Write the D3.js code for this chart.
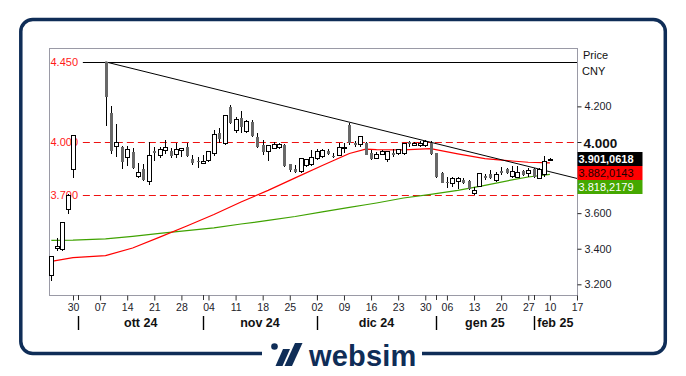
<!DOCTYPE html>
<html>
<head>
<meta charset="utf-8">
<script src="https://cdn.jsdelivr.net/npm/d3@7"></script>
<style>
  html, body { margin: 0; padding: 0; background: #fff; }
  svg { display: block; font-family: "Liberation Sans", Arial, sans-serif; }
</style>
</head>
<body>
<div id="chart-area"></div>
<script>
// candle data (prices in CNY, Italian formatting on the labels)
const candleDates = ["2024-09-24","2024-09-25","2024-09-26","2024-09-27","2024-09-30",
  "2024-10-08","2024-10-09","2024-10-10","2024-10-11","2024-10-14","2024-10-15","2024-10-16","2024-10-17","2024-10-18",
  "2024-10-21","2024-10-22","2024-10-23","2024-10-24","2024-10-25","2024-10-28","2024-10-29","2024-10-30","2024-10-31",
  "2024-11-01","2024-11-04","2024-11-05","2024-11-06","2024-11-07","2024-11-08","2024-11-11","2024-11-12","2024-11-13",
  "2024-11-14","2024-11-15","2024-11-18","2024-11-19","2024-11-20","2024-11-21","2024-11-22","2024-11-25","2024-11-26",
  "2024-11-27","2024-11-28","2024-11-29","2024-12-02","2024-12-03","2024-12-04","2024-12-05","2024-12-06","2024-12-09",
  "2024-12-10","2024-12-11","2024-12-12","2024-12-13","2024-12-16","2024-12-17","2024-12-18","2024-12-19","2024-12-20",
  "2024-12-23","2024-12-24","2024-12-25","2024-12-26","2024-12-27","2024-12-30","2024-12-31","2025-01-02","2025-01-03",
  "2025-01-06","2025-01-07","2025-01-08","2025-01-09","2025-01-10","2025-01-13","2025-01-14","2025-01-15","2025-01-16",
  "2025-01-17","2025-01-20","2025-01-21","2025-01-22","2025-01-23","2025-01-24","2025-01-27","2025-02-05","2025-02-06",
  "2025-02-07","2025-02-10"];
const opens = [3250,3400,3395,3620,3845,
  4450,4165,3975,3970,3915,3942,3807,3850,3778,
  3949,3924,3952,3949,3929,3950,3970,3903,3894,
  3881,3895,3936,4052,3990,4195,4067,4133,4058,
  4110,4026,3983,3949,3965,3971,3983,3876,3846,
  3834,3866,3871,3908,3921,3951,3921,3923,3961,
  4096,3992,3983,3996,3940,3909,3931,3900,3940,
  3934,3937,4002,3978,3979,3978,3996,3936,3824,
  3777,3765,3778,3787,3783,3712,3749,3809,3818,
  3781,3839,3847,3806,3802,3839,3824,3847,3797,
  3815,3899];
const highs = [3360,3460,3550,3710,4040,
  4450,4200,4100,3980,3980,3968,3880,3876,4000,
  3974,3970,4010,3964,3996,3966,3996,3925,3917,
  3927,3946,4067,4077,4150,4208,4142,4176,4124,
  4124,4052,4011,3980,4000,3996,3987,3878,3871,
  3910,3905,3955,3959,3959,3959,3940,3996,3993,
  4108,4007,4034,4000,3955,3946,3955,3948,3959,
  3960,3993,4007,3998,4007,4011,4005,3940,3833,
  3801,3801,3805,3800,3787,3749,3828,3820,3843,
  3833,3857,3852,3865,3865,3843,3852,3852,3852,
  3921,3910];
const lows = [3220,3390,3390,3595,3800,
  4090,3930,3917,3847,3867,3850,3800,3783,3760,
  3895,3908,3931,3912,3912,3917,3917,3871,3856,
  3879,3889,3921,3993,3983,4100,4049,4052,4049,
  4030,3968,3927,3895,3958,3958,3862,3833,3824,
  3824,3860,3865,3899,3908,3925,3908,3920,3940,
  3983,3974,3974,3925,3899,3903,3927,3889,3917,
  3928,3927,3974,3975,3974,3974,3925,3796,3768,
  3740,3749,3734,3765,3730,3702,3747,3787,3790,
  3777,3815,3818,3800,3796,3810,3805,3796,3794,
  3805,3893];
const closes = [3355,3410,3545,3700,4035,
  4255,3950,3998,3886,3958,3852,3830,3785,3925,
  3937,3958,3970,3923,3955,3964,3923,3884,3885,
  3893,3944,4043,4015,4146,4105,4128,4086,4114,
  4034,3970,3946,3978,3988,3986,3865,3843,3834,
  3908,3903,3912,3949,3951,3933,3914,3970,3970,
  3993,3984,4030,3927,3903,3931,3945,3946,3927,
  3955,3989,3990,3993,3992,4000,3931,3805,3771,
  3768,3796,3792,3772,3735,3726,3820,3797,3796,
  3815,3828,3824,3833,3830,3815,3838,3801,3843,
  3890,3901.0618];

// moving averages at these axis positions
const maIndex = [0,4,10,15,20,25,30,35,40,45,50,55,58,60,65,70,75,80,85,88,92];
const maRed = [3329,3350,3361,3404,3465,3528,3592,3663,3728,3798,3868,3935,3960,3957,3955,3963,3933,3906,3893,3886,3882.0143];
const maGreen = [3447,3448,3455,3469,3486,3502,3517,3539,3559,3581,3607,3632,3647,3657,3685,3705,3728,3756,3787,3803,3818.2179];

// axis calendar: weekdays, without the days the axis skips
const axisStart = "2024-09-24";
const axisEnd = "2025-02-17";
const axisSkipped = ["2025-01-01","2025-01-28","2025-01-29","2025-01-30","2025-01-31","2025-02-03","2025-02-04"];

const levelValues = [4450, 4000, 3700];
const levelLabels = ["4.450", "4.000", "3.700"];
const rightTicks = [3200, 3400, 3600, 4200];
const boldTick = 4000;
const trendStart = ["2024-10-08", 4450];
const trendEnd = ["2025-02-17", 3795];
const monthNames = ["gen","feb","mar","apr","mag","giu","lug","ago","set","ott","nov","dic"];

const width = 686, height = 376;
const navy = "#0f2d57";
const plot = {left: 49, right: 577, top: 48, bottom: 295};

const itLocale = d3.formatLocale({decimal: ",", thousands: ".", grouping: [3], currency: ["", ""]});
const fmtTick = itLocale.format(",.0f");
const fmtVal = itLocale.format(",.4f");
const parse = d3.timeParse("%Y-%m-%d");
const key = d3.timeFormat("%Y-%m-%d");

// build the axis days
const axisDays = d3.timeDay.range(parse(axisStart), d3.timeDay.offset(parse(axisEnd), 1))
  .filter(d => d.getDay() !== 0 && d.getDay() !== 6 && !axisSkipped.includes(key(d)));
const dayIndex = new Map(axisDays.map((d, i) => [key(d), i]));

const x = d3.scaleLinear().domain([-0.43, axisDays.length - 1]).range([plot.left, plot.right]);
const y = d3.scaleLinear().domain([3140, 4528]).range([plot.bottom, plot.top]);

const candles = candleDates.map((d, i) => ({
  i: dayIndex.get(d), o: opens[i], h: highs[i], l: lows[i], c: closes[i]
}));

const svg = d3.select("#chart-area").append("svg")
  .attr("width", width).attr("height", height);

// outer frame
svg.append("rect")
  .attr("x", 20.8).attr("y", 19.5).attr("width", 644.5).attr("height", 334)
  .attr("rx", 12)
  .attr("fill", "none").attr("stroke", navy).attr("stroke-width", 3.5);

// plot border
svg.append("rect")
  .attr("x", plot.left + 0.5).attr("y", plot.top + 0.5)
  .attr("width", plot.right - plot.left).attr("height", plot.bottom - plot.top)
  .attr("fill", "#fff").attr("stroke", "#9a9aa6").attr("stroke-width", 1);

// level lines
const levelStart = x(6) - 1;
svg.append("g").selectAll("line")
  .data(levelValues)
  .join("line")
  .attr("x1", levelStart).attr("x2", plot.right)
  .attr("y1", d => Math.round(y(d)) + 0.5).attr("y2", d => Math.round(y(d)) + 0.5)
  .attr("stroke", (d, i) => i === 0 ? "#000" : "#ee1111")
  .attr("stroke-width", (d, i) => i === 0 ? 1 : 1.2)
  .attr("stroke-dasharray", (d, i) => i === 0 ? null : "7,4");

svg.append("g").selectAll("text")
  .data(levelValues)
  .join("text")
  .attr("x", 78).attr("y", d => y(d) + 4)
  .attr("text-anchor", "end")
  .attr("font-size", 11)
  .attr("fill", "#ff1a1a")
  .text((d, i) => levelLabels[i]);

// moving averages
const maLine = d3.line().x(d => x(d[0])).y(d => y(d[1]));
svg.append("path")
  .datum(maIndex.map((d, i) => [d, maGreen[i]]))
  .attr("d", maLine).attr("fill", "none")
  .attr("stroke", "#3fa200").attr("stroke-width", 1.2);
svg.append("path")
  .datum(maIndex.map((d, i) => [d, maRed[i]]))
  .attr("d", maLine).attr("fill", "none")
  .attr("stroke", "#ff0000").attr("stroke-width", 1.2);

// trend line
svg.append("line")
  .attr("x1", x(dayIndex.get(trendStart[0]))).attr("y1", y(trendStart[1]))
  .attr("x2", x(dayIndex.get(trendEnd[0]))).attr("y2", y(trendEnd[1]))
  .attr("stroke", "#000").attr("stroke-width", 1);

// candles
const candle = svg.append("g")
  .attr("shape-rendering", "crispEdges")
  .selectAll("g")
  .data(candles)
  .join("g");

candle.append("line")
  .attr("x1", d => Math.round(x(d.i)) + 0.5).attr("x2", d => Math.round(x(d.i)) + 0.5)
  .attr("y1", d => y(d.h)).attr("y2", d => y(d.l))
  .attr("stroke", "#000").attr("stroke-width", 1);

candle.append("rect")
  .attr("x", d => d.c >= d.o ? Math.round(x(d.i)) - 1.5 : Math.round(x(d.i)) - 1)
  .attr("width", d => d.c >= d.o ? 4 : 3)
  .attr("y", d => y(Math.max(d.o, d.c)))
  .attr("height", d => Math.max(1, Math.abs(y(d.o) - y(d.c))))
  .attr("fill", d => d.c >= d.o ? "#fff" : "#686868")
  .attr("stroke", d => d.c >= d.o ? "#000" : "none")
  .attr("stroke-width", 1);

// right axis
const yAxis = svg.append("g")
  .attr("transform", `translate(${plot.right + 0.5},0)`)
  .call(d3.axisRight(y).tickValues(rightTicks).tickSize(4).tickPadding(3).tickFormat(fmtTick));
yAxis.select(".domain").remove();
yAxis.selectAll("text").attr("font-size", 10.8).attr("fill", "#1c1c2a").attr("font-family", null);
yAxis.selectAll("line").attr("stroke", "#222");

const boldG = svg.append("g").attr("transform", `translate(${plot.right + 0.5},${Math.round(y(boldTick)) + 0.5})`);
boldG.append("line").attr("x2", 4).attr("stroke", "#222");
boldG.append("text").attr("x", 6).attr("y", 5)
  .attr("font-size", 13.5).attr("font-weight", "bold").attr("fill", "#111")
  .text(fmtTick(boldTick));

svg.append("text").attr("x", 583).attr("y", 59).attr("font-size", 11).attr("fill", "#111").text("Price");
svg.append("text").attr("x", 582).attr("y", 75).attr("font-size", 11).attr("fill", "#111").text("CNY");

// last value boxes
const lastBoxes = [
  {v: closes[closes.length - 1], fill: "#000", text: "#fff", bold: true},
  {v: maRed[maRed.length - 1], fill: "#ff0000", text: "#1a0000", bold: false},
  {v: maGreen[maGreen.length - 1], fill: "#45a800", text: "#fff", bold: false}
];
const box = svg.append("g").selectAll("g")
  .data(lastBoxes)
  .join("g")
  .attr("transform", (d, i) => `translate(${plot.right + 0.5},${152 + i * 14})`);
box.append("rect").attr("width", 65).attr("height", 14).attr("fill", d => d.fill);
box.append("text").attr("x", 1).attr("y", 11.3)
  .attr("font-size", 11).attr("font-weight", d => d.bold ? "bold" : "normal")
  .attr("fill", d => d.text)
  .text(d => fmtVal(d.v));

// bottom axis: weekly ticks on Mondays, month separators
const mondays = axisDays.map((d, i) => ({d, i})).filter(o => o.d.getDay() === 1);
const monthStarts = axisDays.map((d, i) => ({d, i}))
  .filter((o, k, arr) => k > 0 && arr[k - 1].d.getMonth() !== o.d.getMonth());

const xAxis = svg.append("g")
  .attr("transform", `translate(0,${plot.bottom + 0.5})`)
  .call(d3.axisBottom(x)
    .tickValues(mondays.map(o => o.i))
    .tickSize(5).tickPadding(3)
    .tickFormat(i => d3.timeFormat("%d")(axisDays[i])));
xAxis.select(".domain").remove();
xAxis.selectAll("text").attr("font-size", 10.5).attr("fill", "#1c1c2a").attr("font-family", null);
xAxis.selectAll("line").attr("stroke", "#333");

svg.append("g").selectAll("line")
  .data(monthStarts)
  .join("line")
  .attr("x1", o => Math.round(x(o.i)) + 0.5).attr("x2", o => Math.round(x(o.i)) + 0.5)
  .attr("y1", plot.bottom).attr("y2", plot.bottom + 5)
  .attr("stroke", "#333");

svg.append("g").selectAll("line")
  .data(monthStarts)
  .join("line")
  .attr("x1", o => Math.round(x(o.i)) + 0.5).attr("x2", o => Math.round(x(o.i)) + 0.5)
  .attr("y1", 316).attr("y2", 330)
  .attr("stroke", "#000").attr("stroke-width", 1.4);

const monthEdges = monthStarts.map(o => x(o.i)).concat([plot.right]);
svg.append("g").selectAll("text")
  .data(monthStarts)
  .join("text")
  .attr("x", (o, k) => (monthEdges[k] + monthEdges[k + 1]) / 2)
  .attr("y", 327)
  .attr("text-anchor", "middle")
  .attr("font-size", 12.5).attr("font-weight", "bold").attr("fill", "#111")
  .text(o => monthNames[o.d.getMonth()] + " " + d3.timeFormat("%y")(o.d));

// websim logo on the bottom border
const logo = svg.append("g");
logo.append("rect").attr("x", 262).attr("y", 338).attr("width", 160).attr("height", 30).attr("fill", "#fff");
logo.append("circle").attr("cx", 274.5).attr("cy", 346.5).attr("r", 3.3).attr("fill", navy);
logo.append("path").attr("d", "M283,349 L290,349 L282.5,366 L275.5,366 Z").attr("fill", navy);
logo.append("path").attr("d", "M295,343 L302.5,343 L292,366 L284.5,366 Z").attr("fill", navy);
logo.append("text").attr("x", 309).attr("y", 365.5)
  .attr("font-size", 29).attr("font-weight", "bold").attr("fill", navy)
  .attr("letter-spacing", 0.2)
  .text("websim");
</script>
</body>
</html>
